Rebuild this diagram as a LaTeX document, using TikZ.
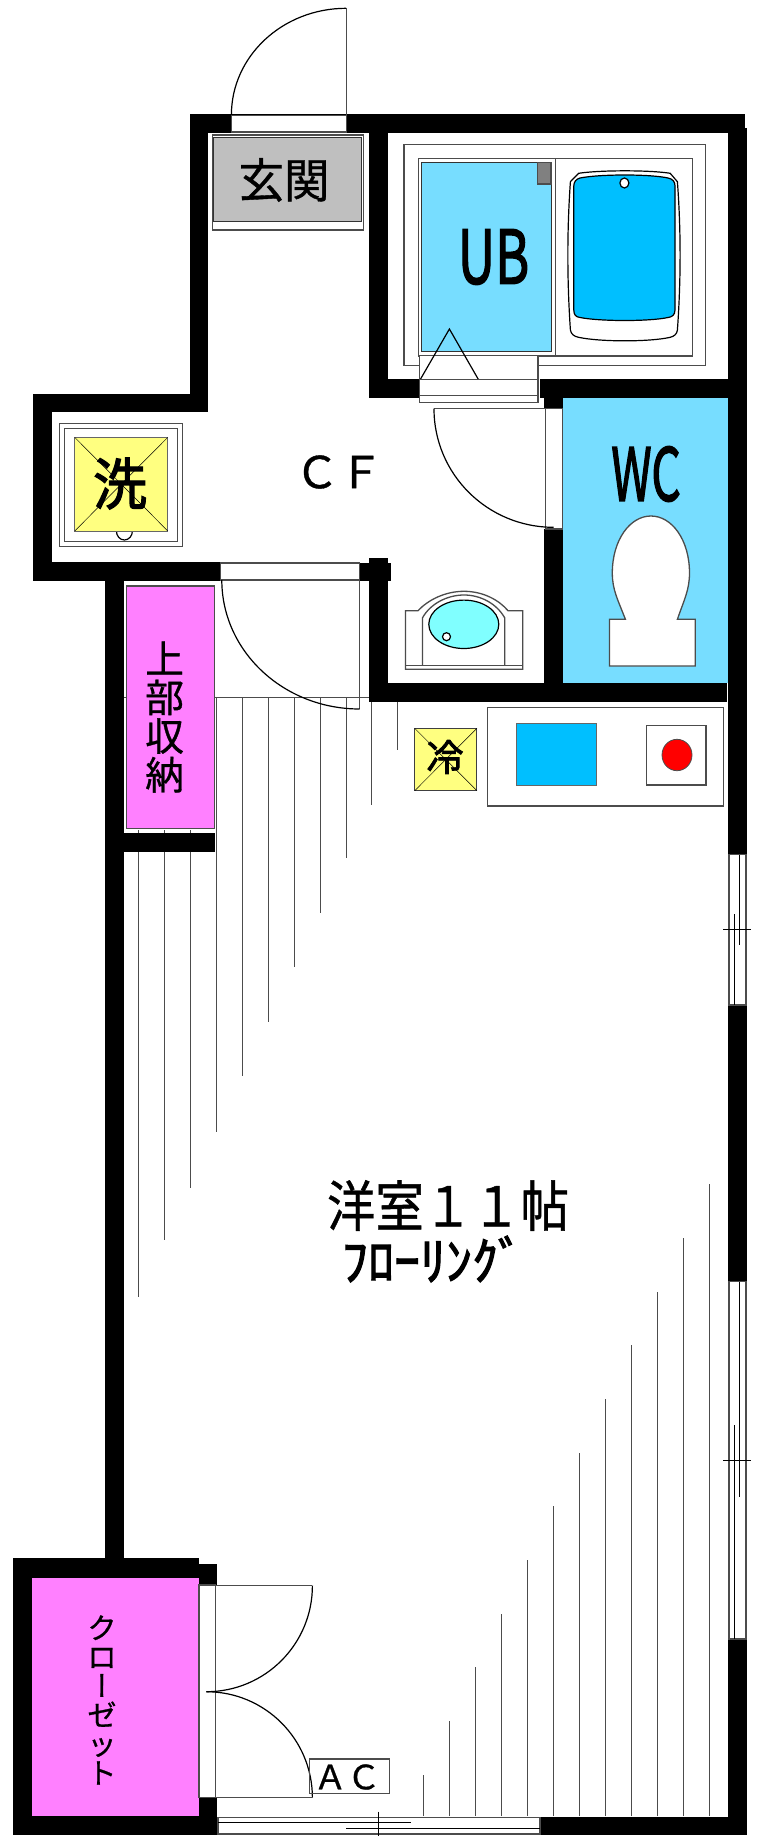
\documentclass[tikz,border=0pt]{standalone}
\usepackage{fontspec}
\usepackage{graphicx}
\newfontfamily\cjk[FakeBold=0.8]{Noto Sans CJK JP}
\newfontfamily\cjkheavy[FakeBold=2.2]{Noto Sans CJK JP}
\newfontfamily\cjkvert[RawFeature=+vert,FakeBold=0.8]{Noto Sans CJK JP}
\newcommand{\jsize}[1]{\fontsize{#1}{#1}\selectfont\cjk}
\newcommand{\jheavy}[1]{\fontsize{#1}{#1}\selectfont\cjkheavy}
\definecolor{bathblue}{HTML}{77DDFF}
\definecolor{tubblue}{HTML}{00BFFF}
\definecolor{closetpink}{HTML}{FF80FF}
\definecolor{appyellow}{HTML}{FFFF80}
\definecolor{basincyan}{HTML}{80FFFF}
\tikzset{
  wall/.style={fill=black},
  ln/.style={draw=black!70,line width=1.3pt},
  thinln/.style={draw=black,line width=1.2pt},
  floorln/.style={draw=black!70,line width=1pt},
  fitting/.style={draw=black!70,line width=1.3pt,fill=white},
  lbl/.style={inner sep=0pt,text=black}
}
\begin{document}
\begin{tikzpicture}[x=1pt,y=1pt]
\useasboundingbox (0,0) rectangle (756,-1836);
\fill [white] (0,0) rectangle (756,-1836);
% flooring, upper set
\draw [floorln] (124,-697) -- (370,-697);
\draw [floorln] (138,-830) -- (138,-1297);
\draw [floorln] (164,-830) -- (164,-1240);
\draw [floorln] (190,-830) -- (190,-1188);
\draw [floorln] (216,-697) -- (216,-1132);
\draw [floorln] (242,-697) -- (242,-1076);
\draw [floorln] (268,-697) -- (268,-1022);
\draw [floorln] (294,-697) -- (294,-967);
\draw [floorln] (320,-697) -- (320,-913);
\draw [floorln] (346,-697) -- (346,-858);
\draw [floorln] (371,-697) -- (371,-805);
\draw [floorln] (397,-697) -- (397,-750);
% flooring, lower set
\draw [floorln] (423,-1816) -- (423,-1775);
\draw [floorln] (449,-1816) -- (449,-1721);
\draw [floorln] (475,-1816) -- (475,-1667);
\draw [floorln] (501,-1816) -- (501,-1614);
\draw [floorln] (527,-1816) -- (527,-1560);
\draw [floorln] (553,-1816) -- (553,-1506);
\draw [floorln] (579,-1816) -- (579,-1453);
\draw [floorln] (605,-1816) -- (605,-1399);
\draw [floorln] (631,-1816) -- (631,-1345);
\draw [floorln] (657,-1816) -- (657,-1292);
\draw [floorln] (683,-1816) -- (683,-1238);
\draw [floorln] (709,-1816) -- (709,-1184);
% coloured rooms
\fill [bathblue] (563.2,-398) rectangle (728,-683);
\draw [ln,fill=closetpink] (126.3,-586) rectangle (214.6,-828.7);
\fill [closetpink] (32,-1577.7) rectangle (199,-1816);
% walls
\fill [wall] (189.5,-114.3) rectangle (745,-133);
\fill [wall] (728,-128) rectangle (747,-854.7);
\fill [wall] (728,-1005) rectangle (747,-1281.7);
\fill [wall] (728,-1639) rectangle (747,-1835);
\fill [wall] (189.5,-114.3) rectangle (207.8,-412);
\fill [wall] (33,-394.3) rectangle (207.8,-412);
\fill [wall] (33,-394.3) rectangle (51.6,-581);
\fill [wall] (33,-562) rectangle (221,-581);
\fill [wall] (359.7,-563) rectangle (390.5,-581);
\fill [wall] (368.9,-558) rectangle (388,-701.7);
\fill [wall] (368.9,-683) rectangle (727,-701.7);
\fill [wall] (544.4,-529) rectangle (563.2,-683);
\fill [wall] (544.4,-398) rectangle (563.2,-408.7);
\fill [wall] (368.9,-133) rectangle (388,-398);
\fill [wall] (368.9,-379.3) rectangle (419,-398);
\fill [wall] (540,-379.3) rectangle (747,-398);
\fill [wall] (105.1,-581) rectangle (124,-1558);
\fill [wall] (124,-832.7) rectangle (214.6,-851.7);
\fill [wall] (13,-1558) rectangle (199,-1577.7);
\fill [wall] (13,-1558) rectangle (32,-1835);
\fill [wall] (13,-1816) rectangle (217,-1835);
\fill [wall] (199,-1564) rectangle (217,-1585);
\fill [wall] (199,-1797.7) rectangle (217,-1835);
\fill [wall] (540,-1816.7) rectangle (747,-1835);
% entrance door
\draw [fitting] (231.4,-115.5) rectangle (346.2,-132);
\draw [ln] (346.2,-8.3) -- (346.2,-115);
\draw [thinln] (231.4,-115) arc (180:90:114.8 and 106.7);
% entrance floor
\draw [fitting] (212.6,-135) rectangle (363.5,-230);
\draw [draw=black!80,line width=1pt,fill=black!25] (213.6,-137.5) rectangle (361,-221.7);
\node [lbl,font=\jsize{47}] (genkan) at (284,-180) {\scalebox{0.97}[1]{玄関}};
% bath unit
\draw [ln] (404,-144.3) rectangle (705.4,-365.7);
\draw [ln] (418.5,-158.7) rectangle (692.4,-356);
\draw [ln] (555.4,-158.7) -- (555.4,-356);
\draw [draw=black!80,line width=1pt,fill=bathblue] (421.9,-162.7) rectangle (551.6,-351.7);
\draw [ln,fill=black!50] (537.6,-162.3) rectangle (551,-184);
\node [lbl,font=\jheavy{74}] (ub) at (493.5,-257) {\scalebox{0.7}[1]{UB}};
\draw [thinln,fill=white] (578.6,-173.3) .. controls (600,-170) and (650,-170) .. (670.2,-173.3) -- (677.4,-181.7)
  .. controls (681,-230) and (681,-280) .. (677.4,-330) .. controls (677,-334) and (674,-336.5) .. (670.2,-337.3)
  .. controls (650,-342) and (600,-342) .. (578.6,-337.3) .. controls (574,-336.5) and (571,-334) .. (570.4,-330)
  .. controls (567,-280) and (567,-230) .. (570.4,-181.7) -- cycle;
\draw [thinln,fill=tubblue] (580,-178) .. controls (600,-174) and (650,-174) .. (668,-178)
  .. controls (673,-179) and (675,-182) .. (675,-186) -- (675,-310) .. controls (675,-315) and (672,-317) .. (668,-317.5)
  .. controls (650,-321.5) and (600,-321.5) .. (580,-317.5) .. controls (576,-317) and (573.8,-315) .. (573.8,-310)
  -- (573.8,-186) .. controls (573.8,-182) and (576,-179) .. (580,-178) -- cycle;
\draw [thinln,fill=white] (624.4,-183) ellipse (4.5 and 5);
% bath door
\draw [fitting] (419.5,-355.7) rectangle (538,-379.3);
\draw [thinln] (420.4,-379.3) -- (449.4,-329) -- (478.3,-379.3);
\draw [fitting] (419.5,-379.3) rectangle (538,-395.7);
\draw [fitting] (419.5,-395.7) rectangle (538,-402.7);
% washing machine
\draw [ln] (59.3,-423.3) rectangle (182.7,-546.3);
\draw [ln] (64.6,-428.7) rectangle (177.4,-541.3);
\draw [thinln] (116.4,-531) arc (180:360:8 and 9);
\draw [draw=black!60,line width=1pt,fill=appyellow] (74.7,-437.3) rectangle (167.8,-531);
\draw [draw=black,line width=0.5pt] (74.7,-437.3) -- (167.8,-531) (167.8,-437.3) -- (74.7,-531);
\node [lbl,font=\jheavy{56}] (sen) at (120,-483.5) {\scalebox{0.96}[1]{洗}};
\node [lbl,font=\jsize{44}] (cf) at (339,-472) {ＣＦ};
% wc
\draw [fitting] (545.3,-408.7) rectangle (562.2,-529);
\draw [ln] (434,-408.7) -- (562.2,-408.7);
\draw [thinln] (434,-408.7) arc (180:270:119.5 and 118.6);
\node [lbl,font=\jheavy{73}] (wc) at (646,-474) {\scalebox{0.63}[1]{WC}};
\draw [fitting] (609.4,-619.3) -- (625.4,-619.3) .. controls (618,-600) and (612.3,-590) .. (612.3,-573)
  .. controls (612.3,-540) and (630,-516) .. (650.9,-516) .. controls (672,-516) and (689.5,-540) .. (689.5,-573)
  .. controls (689.5,-590) and (684,-600) .. (677.4,-619.3) -- (695.3,-619.3) -- (695.3,-666) -- (609.4,-666) -- cycle;
% wash basin
\draw [fitting] (405.5,-669.3) -- (405.5,-610.7) -- (418,-610.7) .. controls (428,-600) and (445,-591.3) .. (464,-591.3)
  .. controls (483,-591.3) and (499,-600) .. (508,-610.7) -- (522.7,-610.7) -- (522.7,-669.3) -- cycle;
\draw [ln] (405.5,-665.3) -- (522.7,-665.3);
\draw [ln] (422.4,-665.3) -- (422.4,-618) .. controls (430,-604) and (447,-595) .. (464,-595)
  .. controls (481,-595) and (497,-604) .. (504.8,-618) -- (504.8,-665.3);
\draw [thinln,fill=basincyan] (463.8,-624.3) ellipse (35 and 24.2);
\draw [thinln,fill=white] (446.5,-636.7) ellipse (4 and 4);
% room door
\draw [fitting] (220.8,-563) rectangle (359.7,-580);
\draw [ln] (359.7,-580) -- (359.7,-709);
\draw [thinln] (221.8,-580) arc (180:270:137.9 and 129);
\node [lbl,align=center,font=\jsize{38.7}] (joubu) at (164.6,-717) {上\\部\\収\\納};
% kitchen
\draw [draw=black!75,line width=1pt,fill=appyellow] (414.7,-728.3) rectangle (476.9,-790.7);
\draw [draw=black,line width=0.5pt] (414.7,-728.3) -- (476.9,-790.7) (476.9,-728.3) -- (414.7,-790.7);
\node [lbl,font=\jheavy{37}] (rei) at (445,-757) {冷};
\draw [ln] (487.5,-707.3) rectangle (723.7,-806);
\draw [draw=black!60,line width=1pt,fill=tubblue] (516.9,-723.3) rectangle (596,-785.3);
\draw [ln] (646.6,-725.3) rectangle (705.9,-785);
\draw [draw=black!70,line width=0.8pt,fill=red] (677,-755) ellipse (15 and 15.7);
% room label
\node [lbl,font=\jsize{55}] (youshitsu) at (448,-1205.5) {\scalebox{0.88}[1]{洋室１１帖}};
\node [lbl,font=\jheavy{52}] (flooring) at (433,-1259) {ﾌﾛｰﾘﾝｸﾞ};
% windows on the right
\draw [fitting] (729,-854.7) rectangle (746,-1005);
\draw [thinln] (739.7,-854.7) -- (739.7,-945);
\draw [thinln] (734.7,-914) -- (734.7,-1005);
\draw [thinln] (723,-929.7) -- (751,-929.7);
\draw [fitting] (729,-1281.7) rectangle (746,-1639);
\draw [thinln] (739.3,-1281.7) -- (739.3,-1496.7);
\draw [thinln] (734.7,-1425) -- (734.7,-1639);
\draw [thinln] (723,-1460.7) -- (751,-1460.7);
% closet
\node [lbl,align=center,font=\jsize{29}] (closet) at (102,-1700) {ク\\ロ\\{\cjkvert ー}\\ゼ\\ッ\\ト};
\draw [fitting] (199,-1585) rectangle (215.5,-1797.7);
\draw [ln] (199,-1585.7) -- (312.4,-1585.7);
\draw [ln] (199,-1797.7) -- (312.4,-1797.7);
\draw [thinln] (312.4,-1585.7) arc (0:-90:106 and 106);
\draw [thinln] (206.4,-1691.7) arc (90:0:106 and 106);
\draw [ln] (309.5,-1759) rectangle (389.6,-1793.7);
\node [lbl,font=\jsize{33.5}] (ac) at (347,-1777) {ＡＣ};
% window at the bottom
\draw [fitting] (218,-1817.3) rectangle (540,-1834);
\draw [thinln] (218,-1822.3) -- (410.8,-1822.3);
\draw [thinln] (346,-1828.3) -- (540,-1828.3);
\draw [thinln] (378.5,-1811.7) -- (378.5,-1836);
\end{tikzpicture}
\end{document}
